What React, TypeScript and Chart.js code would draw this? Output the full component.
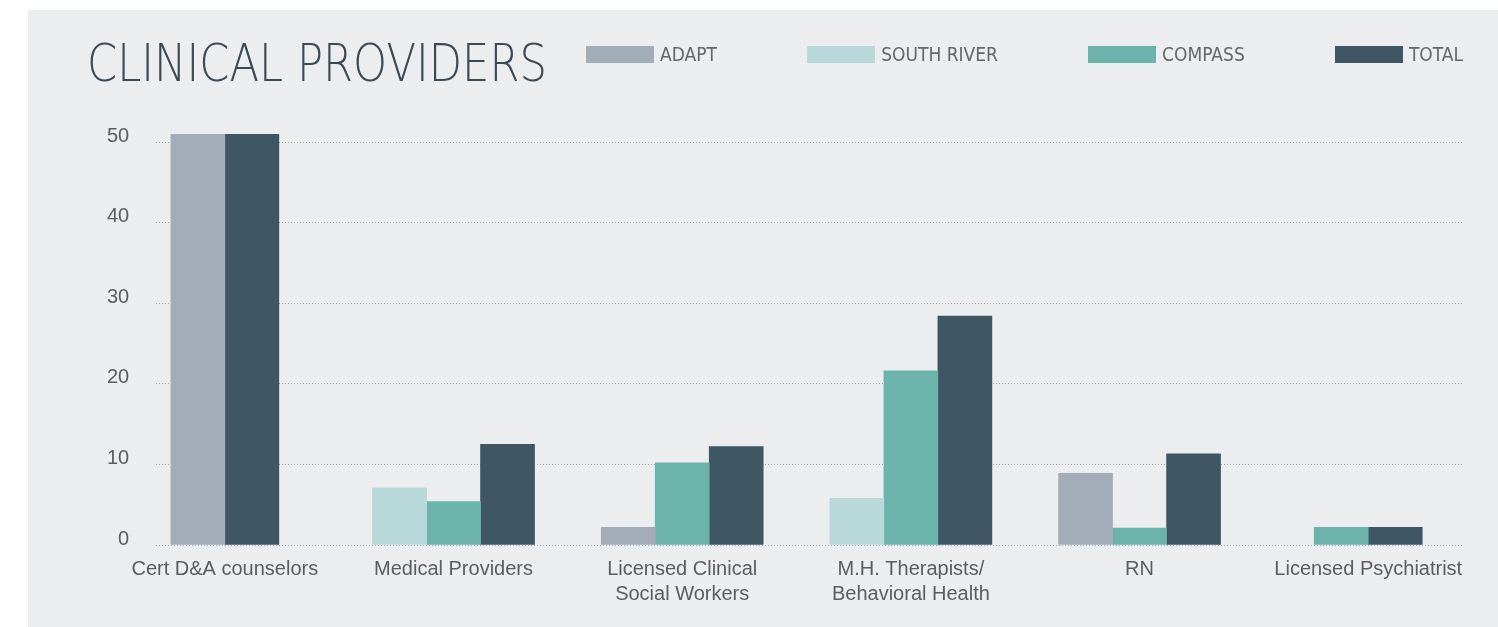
import React, { useEffect, useLayoutEffect, useRef } from "react";
import { Chart, registerables } from "chart.js";

Chart.register(...registerables);

// ---- data ----
const categories: (string | string[])[] = [
  "Cert D&A counselors",
  "Medical Providers",
  ["Licensed Clinical", "Social Workers"],
  ["M.H. Therapists/", "Behavioral Health"],
  "RN",
  "Licensed Psychiatrist",
];
const seriesNames = ["ADAPT", "SOUTH RIVER", "COMPASS", "TOTAL"];
const adapt: (number | null)[] = [51, null, 2.2, null, 8.9, null];
const southRiver: (number | null)[] = [null, 7.1, null, 5.8, null, null];
const compass: (number | null)[] = [null, 5.4, 10.2, 21.6, 2.1, 2.2];
const total: (number | null)[] = [51, 12.5, 12.2, 28.4, 11.3, 2.2];
const yTicks = [0, 10, 20, 30, 40, 50];
const titleText = "CLINICAL PROVIDERS";

// ---- styles ----
const seriesColors = ["#A3ADB8", "#B8D8DA", "#6CB3AB", "#3F5664"];
const PANEL_BG = "#ECEDEF";
const TEXT = "#5c5c5c";
const NARROW = "'Liberation Sans Narrow', 'DejaVu Sans Condensed', 'Liberation Sans', sans-serif";
const SANS = "'Liberation Sans', Arial, sans-serif";
const TITLE_WIDTH = 460;

export default function App() {
  const ref = useRef<HTMLCanvasElement | null>(null);
  const titleRef = useRef<HTMLSpanElement | null>(null);

  useLayoutEffect(() => {
    const el = titleRef.current;
    if (!el) return;
    el.style.transform = "none";
    const w = el.getBoundingClientRect().width;
    if (w > 0) el.style.transform = `scaleX(${TITLE_WIDTH / w})`;
  }, []);

  useEffect(() => {
    if (!ref.current) return;
    const seriesValues = [adapt, southRiver, compass, total];
    const chart = new Chart(ref.current, {
      type: "bar",
      data: {
        datasets: seriesValues.map((vals, s) => ({
          label: seriesNames[s],
          data: vals.map((v, i) => ({ x: i, y: v })) as any,
          backgroundColor: seriesColors[s],
          borderWidth: 0,
          barThickness: 54,
          skipNull: true,
        })),
      },
      options: {
        animation: false,
        responsive: false,
        maintainAspectRatio: false,
        layout: { padding: { top: 124, left: 52, right: 36, bottom: 8 } },
        plugins: {
          legend: { display: false },
          title: { display: false },
          tooltip: { enabled: false },
        },
        scales: {
          x: {
            type: "linear",
            min: -0.3,
            max: 5.41,
            offset: false,
            afterBuildTicks: (scale: any) => {
              scale.ticks = categories.map((_, i) => ({ value: i }));
            },
            ticks: {
              autoSkip: false,
              maxRotation: 0,
              minRotation: 0,
              padding: 12,
              color: TEXT,
              font: { family: SANS, size: 20, lineHeight: 1.25 },
              callback: (v: any) => categories[Number(v)] as any,
            },
            grid: { display: false, drawTicks: false },
            border: { display: false },
          },
          y: {
            min: 0,
            max: 51,
            afterBuildTicks: (scale: any) => {
              scale.ticks = yTicks.map((v) => ({ value: v }));
            },
            ticks: {
              padding: 27,
              labelOffset: -6,
              color: TEXT,
              font: { family: SANS, size: 20 },
            },
            grid: { color: "#9fa9b2", lineWidth: 1, drawTicks: false },
            border: { display: false, dash: [1, 2] },
          },
        },
      } as any,
    });
    return () => chart.destroy();
  }, []);

  return (
    <div
      style={{
        position: "absolute",
        left: 28,
        top: 10,
        width: 1470,
        height: 617,
        background: PANEL_BG,
        overflow: "hidden",
      }}
    >
      <canvas
        ref={ref}
        width={1470}
        height={617}
        style={{ position: "absolute", left: 0, top: 0, width: 1470, height: 617 }}
      />
      <span
        ref={titleRef}
        style={{
          position: "absolute",
          left: 59,
          top: 27,
          display: "inline-block",
          fontFamily: "'DejaVu Sans', sans-serif",
          fontWeight: 200,
          fontSize: 52,
          lineHeight: 1,
          color: "#3A4A55",
          whiteSpace: "nowrap",
          transformOrigin: "0 0",
        }}
      >
        {titleText}
      </span>
      <div
        style={{
          position: "absolute",
          left: 558,
          top: 36,
          width: 877,
          height: 17,
          display: "flex",
          justifyContent: "space-between",
          alignItems: "center",
        }}
      >
        {seriesNames.map((name, i) => (
          <div key={name} style={{ display: "flex", alignItems: "center" }}>
            <span
              style={{
                display: "inline-block",
                width: 68,
                height: 17,
                background: seriesColors[i],
                marginRight: 6,
              }}
            />
            <span
              style={{
                fontFamily: NARROW,
                fontSize: 19,
                lineHeight: 1,
                color: "#666",
                whiteSpace: "nowrap",
              }}
            >
              {name}
            </span>
          </div>
        ))}
      </div>
    </div>
  );
}
